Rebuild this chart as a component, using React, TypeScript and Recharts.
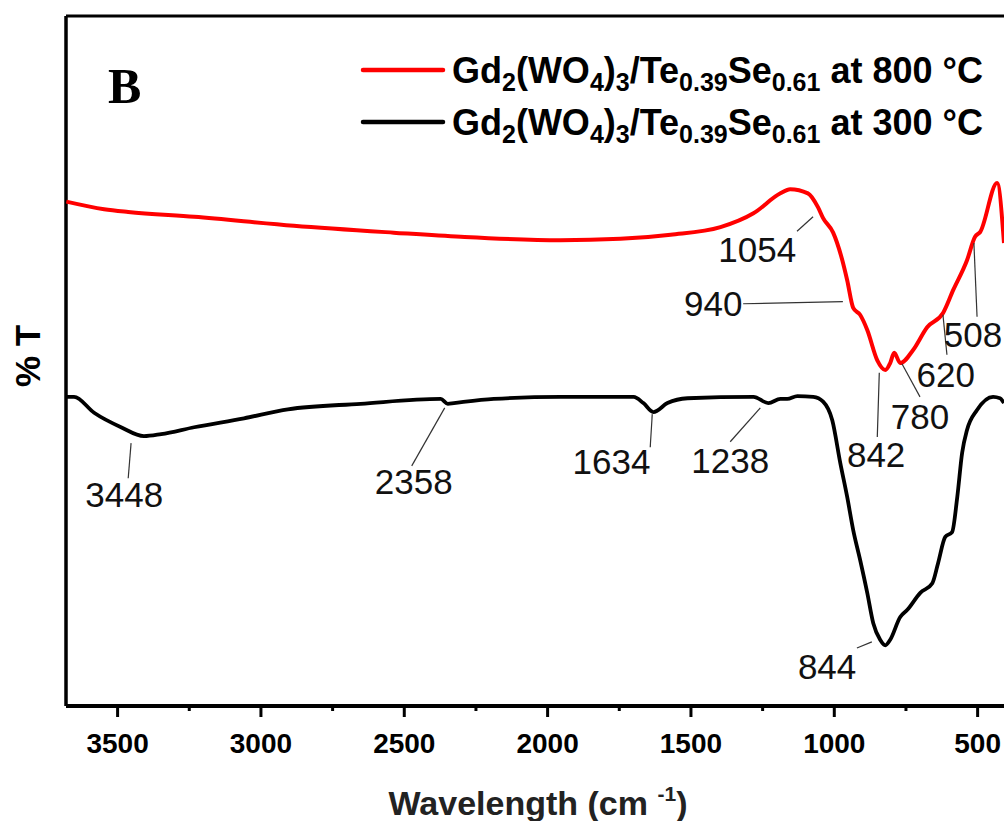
import React from 'react';
import { LineChart, Line, XAxis, YAxis, ReferenceLine, ReferenceDot } from 'recharts';

// wavenumber (cm-1) and %T
const redWavenumber = [3679, 3547, 3463, 3233, 2885, 2537, 2303, 1955, 1746, 1571, 1397, 1282, 1188, 1154, 1092, 1057, 1039, 1004, 972, 955, 934, 910, 885, 850, 822, 805, 791, 770, 725, 676, 620, 585, 537, 509, 491, 432, 408];
const redT = [73.1, 72.0, 71.6, 70.9, 69.6, 68.6, 68.0, 67.5, 67.7, 68.3, 69.4, 71.4, 74.3, 74.9, 74.3, 72.3, 70.7, 68.6, 64.6, 61.7, 57.7, 56.7, 54.5, 50.1, 48.7, 49.7, 51.2, 49.7, 51.6, 54.9, 57.0, 60.3, 64.6, 68.0, 68.7, 75.8, 67.1];

const blackWavenumber = [3679, 3652, 3582, 3488, 3408, 3348, 3233, 3059, 2906, 2652, 2373, 2348, 2327, 2188, 1955, 1700, 1666, 1631, 1582, 1512, 1282, 1230, 1188, 1164, 1129, 1073, 1039, 1007, 979, 955, 934, 910, 885, 864, 840, 822, 805, 770, 746, 700, 658, 638, 613, 589, 571, 554, 537, 502, 446, 422, 408];
const blackT = [44.8, 44.8, 42.5, 40.4, 39.1, 39.4, 40.4, 41.7, 43.0, 43.8, 44.5, 43.8, 43.9, 44.5, 44.8, 44.8, 43.9, 42.6, 43.9, 44.6, 44.8, 43.9, 44.5, 44.5, 44.9, 44.8, 44.1, 41.4, 35.2, 30.3, 25.5, 21.2, 16.4, 12.0, 9.6, 8.8, 9.6, 12.9, 13.9, 16.4, 17.8, 20.7, 24.5, 25.2, 30.3, 36.7, 40.0, 42.9, 44.8, 44.6, 43.9];

const majorTicks = [3500, 3000, 2500, 2000, 1500, 1000, 500];
const allTicks = [3500, 3250, 3000, 2750, 2500, 2250, 2000, 1750, 1500, 1250, 1000, 750, 500];

// peak labels: text, leader line start/end, text position (all in data units)
const peakLabels = ['3448', '2358', '1634', '1238', '844', '1054', '940', '842', '780', '620', '508'];
const leaderFrom = [[3453, 38.1], [2359, 43.2], [1635, 42.3], [1258, 43.2], [921, 8.4], [1130, 68.8], [1318, 58.3], [843, 48.3], [764, 49.6], [621, 56.7], [513, 67.1]];
const leaderTo = [[3463, 33.0], [2474, 34.8], [1642, 37.5], [1363, 38.3], [869, 9.3], [1074, 70.9], [970, 58.6], [850, 39.0], [701, 44.8], [607, 50.9], [502, 56.4]];
const labelAt = [[3477, 30.7], [2467, 32.5], [1777, 35.4], [1363, 35.5], [1025, 5.7], [1269, 66.1], [1422, 58.3], [854, 36.4], [701, 41.9], [611, 48.1], [516, 53.8]];

const red = redWavenumber.map((wn, i) => ({ wn, t: redT[i] }));
const black = blackWavenumber.map((wn, i) => ({ wn, t: blackT[i] }));

const font = '"Liberation Sans", Arial, sans-serif';

const Tick = (props: any) => {
    const { x, y, payload } = props;
    const major = majorTicks.includes(payload.value);
    return (
        <g>
            <line x1={x} x2={x} y1={y} y2={y + (major ? 11 : 5)} stroke="#000" strokeWidth={3} />
            {major && (
                <text x={x} y={y + 47} textAnchor="middle" fontSize={28} fontWeight="bold" fontFamily={font} fill="#000">
                    {payload.value}
                </text>
            )}
        </g>
    );
};

const LegendRow = ({ y, color, temp }: { y: number; color: string; temp: string }) => (
    <g>
        <line x1={363} x2={443} y1={y} y2={y} stroke={color} strokeWidth={4.5} strokeLinecap="round" />
        <text x={452} y={y + 13} fontSize={36} fontWeight="bold" fontFamily={font} fill="#000" style={{ whiteSpace: 'pre' }}>
            Gd<tspan fontSize={25} dy={8}>2</tspan>
            <tspan dy={-8}>(WO</tspan>
            <tspan fontSize={25} dy={8}>4</tspan>
            <tspan dy={-8}>)</tspan>
            <tspan fontSize={25} dy={8}>3</tspan>
            <tspan dy={-8}>/Te</tspan>
            <tspan fontSize={25} dy={8}>0.39</tspan>
            <tspan dy={-8}>Se</tspan>
            <tspan fontSize={25} dy={8}>0.61</tspan>
            <tspan dy={-8}>{` at ${temp} °C`}</tspan>
        </text>
    </g>
);

export default function App() {
    return (
        <div style={{ position: 'absolute', left: 0, top: 0, width: 1004, height: 821, background: '#fff' }}>
            <LineChart width={1004} height={821} margin={{ top: 16, right: 0, bottom: 0, left: 65 }}>
                <XAxis
                    dataKey="wn"
                    type="number"
                    domain={[408, 3680]}
                    reversed
                    allowDataOverflow
                    ticks={allTicks}
                    interval={0}
                    tick={<Tick />}
                    tickLine={false}
                    tickSize={0}
                    tickMargin={0}
                    height={115}
                    axisLine={{ stroke: '#000', strokeWidth: 4 }}
                />
                <YAxis type="number" domain={[0, 100]} width={1} tick={false} tickLine={false} axisLine={false} />
                <ReferenceLine y={100} stroke="#000" strokeWidth={3} />
                <ReferenceLine x={3680} stroke="#000" strokeWidth={3.5} />

                <Line data={red} dataKey="t" type="monotone" stroke="#ff0000" strokeWidth={4} dot={false} isAnimationActive={false} />
                <Line data={black} dataKey="t" type="monotone" stroke="#000" strokeWidth={3.8} dot={false} isAnimationActive={false} />

                {peakLabels.map((p, i) => (
                    <ReferenceLine
                        key={'l' + p}
                        segment={[{ x: leaderFrom[i][0], y: leaderFrom[i][1] }, { x: leaderTo[i][0], y: leaderTo[i][1] }]}
                        stroke="#333"
                        strokeWidth={1.2}
                    />
                ))}
                {peakLabels.map((p, i) => (
                    <ReferenceDot
                        key={'t' + p}
                        x={labelAt[i][0]}
                        y={labelAt[i][1]}
                        r={0}
                        fill="none"
                        stroke="none"
                        label={{ value: p, position: 'center', fontSize: 35, fill: '#111', fontFamily: font }}
                    />
                ))}

                <text x={108} y={103} fontSize={50} fontWeight="bold" fontFamily='"Liberation Serif", "Times New Roman", serif' fill="#000">B</text>
                <text x={0} y={0} transform="translate(40, 356) rotate(-90)" textAnchor="middle" fontSize={35} fontWeight="bold" fontFamily={font} fill="#000">% T</text>
                <text x={538} y={815} textAnchor="middle" fontSize={34} fontWeight="bold" fontFamily={font} fill="#222" style={{ whiteSpace: 'pre' }}>
                    Wavelength (cm <tspan fontSize={21} dy={-14}>-1</tspan><tspan dy={14}>)</tspan>
                </text>

                <LegendRow y={70} color="#ff0000" temp="800" />
                <LegendRow y={122} color="#000" temp="300" />
            </LineChart>
        </div>
    );
}
